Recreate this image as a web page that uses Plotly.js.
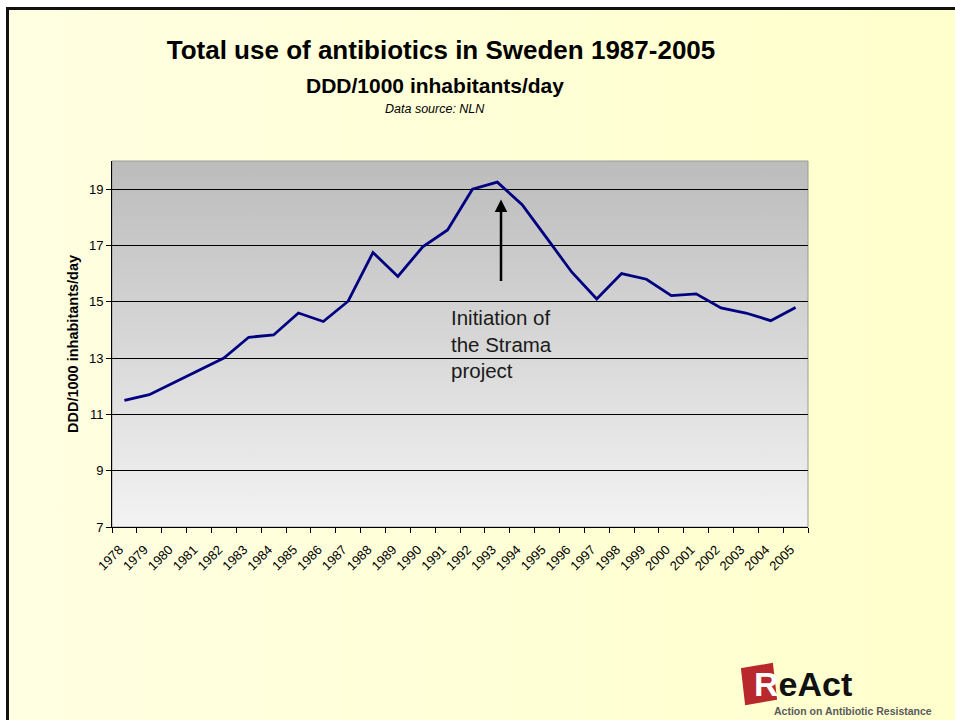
<!DOCTYPE html>
<html>
<head>
<meta charset="utf-8">
<script src="https://cdn.plot.ly/plotly-3.0.1.min.js"></script>
<style>
  html, body { margin: 0; padding: 0; background: #ffffff; }
  #wrap { position: relative; width: 955px; height: 720px; overflow: hidden; }
  #bg { position: absolute; left: 6px; top: 7px; width: 949px; height: 713px;
        border-top: 3px solid #111; border-left: 3px solid #111;
        background: linear-gradient(to right, #ffffe2, #ffffcc); }
  #chart { position: absolute; left: 0; top: 0; width: 955px; height: 720px; }
</style>
</head>
<body>
<div id="wrap">
  <div id="bg"></div>
  <div id="chart"></div>
</div>
<script>
// ---- data ----
const years = ["1978","1979","1980","1981","1982","1983","1984","1985","1986","1987",
               "1988","1989","1990","1991","1992","1993","1994","1995","1996","1997",
               "1998","1999","2000","2001","2002","2003","2004","2005"];
const dddValues = [11.5, 11.7, 12.13, 12.56, 13.0, 13.74, 13.82, 14.6, 14.3, 15.02,
                   16.75, 15.9, 16.95, 17.55, 19.0, 19.25, 18.45, 17.25, 16.05, 15.1,
                   16.0, 15.8, 15.22, 15.28, 14.78, 14.6, 14.33, 14.8];
const yTickVals = [7, 9, 11, 13, 15, 17, 19];
const yRange = [7, 20];

const titleText = "Total use of antibiotics in Sweden 1987-2005";
const subTitleText = "DDD/1000 inhabitants/day";
const sourceText = "Data source: NLN";
const yAxisTitle = "DDD/1000 inhabitants/day";
const noteText = "Initiation of<br>the Strama<br>project";
// arrow: category index and value range
const arrowX = 15.15, arrowHeadY = 18.63, arrowTailY = 15.68;

// ---- layout helpers ----
const W = 955, H = 720;
const M = { l: 112, r: 147, t: 161, b: 193 };
const PW = W - M.l - M.r, PH = H - M.t - M.b;
const px = x => (x - M.l) / PW;
const py = y => (H - M.b - y) / PH;

const FONT = "Liberation Sans, Arial, sans-serif";

const gradSvg = '<svg xmlns="http://www.w3.org/2000/svg" width="10" height="100" preserveAspectRatio="none">' +
  '<defs><linearGradient id="g" x1="0" y1="0" x2="0" y2="1">' +
  '<stop offset="0" stop-color="#bcbcbc"/><stop offset="1" stop-color="#f3f3f3"/>' +
  '</linearGradient></defs><rect width="10" height="100" fill="url(#g)"/></svg>';
const gradUri = 'data:image/svg+xml;utf8,' + encodeURIComponent(gradSvg);

// logo red square corners (pixels)
const sq = [[742, 669], [772, 664], [776, 699], [746, 704]];
const sqPath = 'M ' + sq.map(p => px(p[0]) + ',' + py(p[1])).join(' L ') + ' Z';

const trace = {
  x: years,
  y: dddValues,
  type: 'scatter',
  mode: 'lines',
  line: { color: '#000080', width: 2.8 },
  hoverinfo: 'x+y',
  showlegend: false
};

const layout = {
  width: W, height: H,
  margin: M,
  paper_bgcolor: 'rgba(0,0,0,0)',
  plot_bgcolor: 'rgba(0,0,0,0)',
  font: { family: FONT, color: '#000' },
  title: {
    text: titleText,
    font: { family: FONT, size: 26, color: '#000', weight: 'bold' },
    xref: 'container', yref: 'container',
    x: 441 / W, y: 1 - 50 / H, xanchor: 'center', yanchor: 'middle'
  },
  xaxis: {
    type: 'category',
    tickson: 'boundaries',
    ticks: 'outside', ticklen: 5, tickcolor: '#000', tickwidth: 1,
    showline: true, linecolor: '#000', linewidth: 1,
    showgrid: false, zeroline: false,
    tickangle: -45,
    ticklabelstandoff: 9,
    ticklabelshift: -5,
    tickfont: { family: FONT, size: 13, color: '#000' },
    range: [-0.5, years.length - 0.5],
    fixedrange: true
  },
  yaxis: {
    range: yRange,
    tickvals: yTickVals,
    ticks: 'outside', ticklen: 5, tickcolor: '#000', tickwidth: 1,
    showline: true, linecolor: '#000', linewidth: 1,
    showgrid: true, gridcolor: '#000', gridwidth: 1,
    zeroline: false,
    tickfont: { family: FONT, size: 13, color: '#000' },
    title: { text: yAxisTitle, font: { family: FONT, size: 14.5, color: '#000', weight: 'bold' }, standoff: 6 },
    fixedrange: true
  },
  images: [{
    source: gradUri, xref: 'paper', yref: 'paper',
    x: 0, y: 1, sizex: 1, sizey: 1, sizing: 'stretch',
    xanchor: 'left', yanchor: 'top', layer: 'below'
  }],
  shapes: [
    { type: 'rect', xref: 'paper', yref: 'paper', x0: 0, x1: 1, y0: 0, y1: 1,
      line: { color: '#9a9a9a', width: 1 }, layer: 'below' },
    { type: 'path', xref: 'paper', yref: 'paper', path: sqPath,
      fillcolor: '#b8282c', line: { color: '#b8282c', width: 2 }, layer: 'above' }
  ],
  annotations: [
    { text: subTitleText, xref: 'paper', yref: 'paper', x: px(435), y: py(85),
      xanchor: 'center', yanchor: 'middle', showarrow: false,
      font: { family: FONT, size: 21, color: '#000', weight: 'bold' } },
    { text: '<i>' + sourceText + '</i>', xref: 'paper', yref: 'paper', x: px(435), y: py(109),
      xanchor: 'center', yanchor: 'middle', showarrow: false,
      font: { family: FONT, size: 12.5, color: '#000' } },
    { text: '', xref: 'x', yref: 'y', x: arrowX, y: arrowHeadY,
      axref: 'x', ayref: 'y', ax: arrowX, ay: arrowTailY,
      showarrow: true, arrowhead: 2, arrowsize: 1, arrowwidth: 2.5, arrowcolor: '#000' },
    { text: noteText, xref: 'paper', yref: 'paper', x: px(449), y: py(304),
      xanchor: 'left', yanchor: 'top', align: 'left', showarrow: false,
      font: { family: FONT, size: 20.5, color: '#1a1a1a' } },
    { text: '<span style="color:#ffffff">R</span>eAct', xref: 'paper', yref: 'paper',
      x: px(752), y: py(684), xanchor: 'left', yanchor: 'middle', showarrow: false,
      font: { family: FONT, size: 34, color: '#111', weight: 'bold' } },
    { text: 'Action on Antibiotic Resistance', xref: 'paper', yref: 'paper',
      x: px(772), y: py(711), xanchor: 'left', yanchor: 'middle', showarrow: false,
      font: { family: FONT, size: 10.5, color: '#5a5a5a', weight: 'bold' } }
  ]
};

Plotly.newPlot('chart', [trace], layout, { displayModeBar: false, staticPlot: true });
</script>
</body>
</html>
